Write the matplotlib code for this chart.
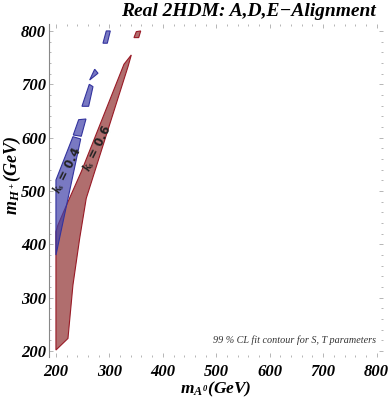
import matplotlib
matplotlib.use("Agg")
import matplotlib.pyplot as plt
from matplotlib.patches import Polygon
import numpy as np

plt.rcParams['mathtext.fontset'] = 'custom'
plt.rcParams['mathtext.it'] = 'Liberation Serif:italic:bold'
plt.rcParams['mathtext.rm'] = 'Liberation Serif:italic:bold'
plt.rcParams['mathtext.bf'] = 'Liberation Serif:italic:bold'

# k_s = 0.6 region (red): main piece and small top piece  (mA, mH)
red_main_mA = [200, 222.5, 231.8, 244.4, 256.7, 334.8, 341, 327.3, 247.4, 222.5, 203.7, 200]
red_main_mH = [202, 223.8, 323.8, 411.3, 486.3, 733, 755, 737.6, 536.2, 480, 436.3, 423.7]
red_top_mA = [346, 350.4, 358.6, 354.9]
red_top_mH = [787.5, 798.7, 800, 787.5]

# k_s = 0.4 region (blue): several pieces
blue_p1_mA = [200, 200, 231.8, 246.3, 219.3]
blue_p1_mH = [380, 520.6, 601.9, 597.5, 470.6]
blue_p2_mA = [232.4, 242.5, 256.2, 247.4]
blue_p2_mH = [605, 633.7, 635, 602.6]
blue_p3_mA = [248.7, 262.4, 269.3, 261.2]
blue_p3_mH = [658.8, 700, 695.6, 658.8]
blue_p4_mA = [263.1, 278.7, 272.5]
blue_p4_mH = [708.1, 720.7, 728.2]
blue_p5_mA = [288, 294.2, 301.7, 296.1]
blue_p5_mH = [777, 800, 800, 777]

xticks = [200, 300, 400, 500, 600, 700, 800]
yticks = [200, 300, 400, 500, 600, 700, 800]

fig = plt.figure(figsize=(3.9, 4.03), dpi=100)
ax = fig.add_axes([49/390, 1-357/403, (383-49)/390, (357-24)/403])
ax.set_xlim(187, 812)
ax.set_ylim(189, 813)

blue_face = (65/255, 65/255, 168/255, 0.7)
blue_edge = (0.2, 0.2, 0.62)
red_face = (176/255, 110/255, 110/255, 1.0)
red_edge = (0.6, 0.1, 0.15)

for xs, ys in [(red_main_mA, red_main_mH), (red_top_mA, red_top_mH)]:
    ax.add_patch(Polygon(np.column_stack([xs, ys]), closed=True, facecolor=red_face,
                         edgecolor=red_edge, linewidth=0.8, zorder=2))
for xs, ys in [(blue_p1_mA, blue_p1_mH), (blue_p2_mA, blue_p2_mH), (blue_p3_mA, blue_p3_mH),
               (blue_p4_mA, blue_p4_mH), (blue_p5_mA, blue_p5_mH)]:
    ax.add_patch(Polygon(np.column_stack([xs, ys]), closed=True, facecolor=blue_face,
                         edgecolor=blue_edge, linewidth=0.8, zorder=3))

ax.text(221, 538, r'$k_s$ = 0.4', rotation=64, ha='center', va='center',
        fontsize=8.5, fontweight='bold', family='DejaVu Sans', color='#222222', zorder=5)
ax.text(277, 580, r'$k_s$ = 0.6', rotation=64, ha='center', va='center',
        fontsize=8.5, fontweight='bold', family='DejaVu Sans', color='#222222', zorder=5)

ax.text(800, 220, '99 % CL fit contour for S, T parameters', ha='right', va='center',
        fontsize=7.3, style='italic', family='Liberation Serif', color='#333333')

for s in ['top', 'right', 'bottom']:
    ax.spines[s].set_visible(False)
ax.spines['left'].set_color('#888888')
ax.spines['left'].set_linewidth(0.8)

ax.set_xticks(xticks)
ax.set_yticks(yticks)
ax.set_xticks(np.arange(200, 812, 20), minor=True)
ax.set_yticks(np.arange(200, 812, 20), minor=True)
ax.tick_params(axis='both', which='both', direction='in', color='#aaaaaa', width=0.6,
               top=True, right=True)
ax.tick_params(axis='both', which='major', length=3)
ax.tick_params(axis='both', which='minor', length=1.5)
ax.tick_params(axis='x', pad=5)
ax.tick_params(axis='y', pad=2)
for lab in ax.get_xticklabels() + ax.get_yticklabels():
    lab.set_fontfamily('Liberation Serif')
    lab.set_fontweight('bold')
    lab.set_fontstyle('italic')
    lab.set_fontsize(12)

ax.set_xlabel(r'$m_{A^0}$(GeV)', fontsize=12.5, family='Liberation Serif',
              fontweight='bold', style='italic')
ax.set_ylabel(r'$m_{H^+}$(GeV)', fontsize=13, family='Liberation Serif',
              fontweight='bold', style='italic')
ax.xaxis.set_label_coords((216 - 49) / 334, (357 - 389) / 333)
ax.yaxis.set_label_coords((12 - 49) / 334, (357 - 175) / 333)
ax.xaxis.label.set_va('center')
ax.yaxis.label.set_va('center')

fig.text(248/390, 1-11/403, 'Real 2HDM: A,D,E\u2212Alignment', ha='center', va='center',
         fontsize=14, family='Liberation Serif', fontweight='bold', style='italic')

fig.savefig('out.png', dpi=100)
